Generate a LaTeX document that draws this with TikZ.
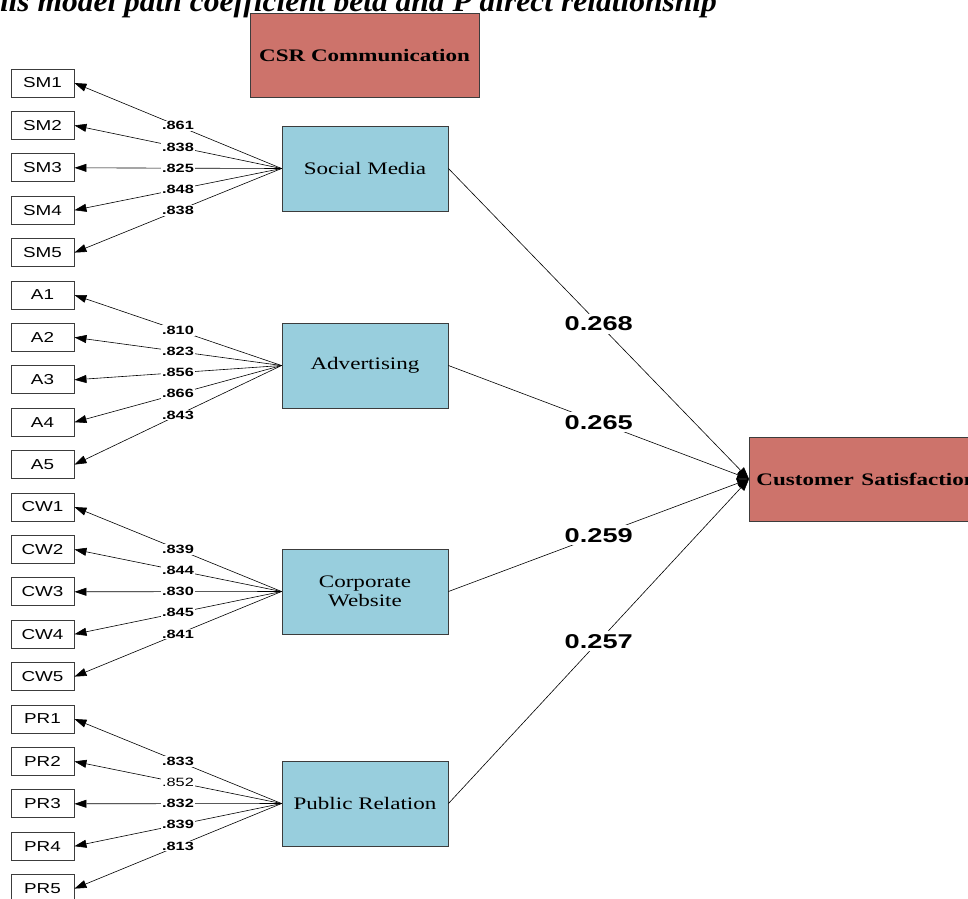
\documentclass[tikz,border=0pt]{standalone}
\usepackage{fontspec}
\usepackage{graphicx}
\setmainfont{Liberation Serif}
\newfontfamily\sansfam{Liberation Sans}
\newfontfamily\seriffam{Liberation Serif}
\usetikzlibrary{arrows.meta}
\definecolor{latblue}{RGB}{152,206,221}
\definecolor{csrred}{RGB}{205,115,107}
\definecolor{edgegray}{RGB}{60,60,60}
\newcommand\sx[1]{\scalebox{1.31}[1]{#1}}
\newcommand\sy[1]{\scalebox{1.36}[1]{#1}}
\tikzset{
  itembox/.style={draw=edgegray, line width=0.9pt, fill=white, minimum width=63pt, minimum height=28pt, inner sep=0pt, font=\sansfam\fontsize{14.4}{16}\selectfont},
  latbox/.style={draw=edgegray, line width=0.9pt, fill=latblue, minimum width=166pt, minimum height=85pt, inner sep=0pt, align=center, font=\seriffam\fontsize{17.6}{19.5}\selectfont},
  redbox/.style={draw=edgegray, line width=0.9pt, fill=csrred, minimum height=84pt, inner sep=0pt, font=\seriffam\bfseries\fontsize{17.6}{19.5}\selectfont},
  load/.style={draw=black, line width=0.6pt, -{Triangle[length=12pt,width=8pt]}},
  path/.style={draw=black, line width=0.6pt, -{Triangle[length=12pt,width=9pt]}},
  lbl/.style={fill=white, inner sep=1pt, font=\sansfam\bfseries\fontsize{12}{13}\selectfont},
  lblr/.style={fill=white, inner sep=1pt, font=\sansfam\fontsize{12}{13}\selectfont},
  coef/.style={fill=white, inner xsep=2pt, inner ysep=3pt, font=\sansfam\bfseries\fontsize{20}{22}\selectfont},
}
\begin{document}
\begin{tikzpicture}[x=1pt, y=-1pt]
\useasboundingbox (0,0) rectangle (968,898);
\clip (0,0) rectangle (968,898);
% title (partly cut off)
\node[anchor=base east, inner sep=0pt, font=\seriffam\bfseries\itshape\fontsize{30}{32}\selectfont] (title) at (717,11) {\scalebox{1.05}[1]{This model path coefficient beta and P direct relationship}};
% red boxes
\node[redbox, minimum width=229pt] (csr) at (364.5,55) {\sx{CSR Communication}};
\node[redbox, anchor=west, minimum width=245pt, text width=238pt, inner xsep=7pt, align=left] (cs) at (749,479) {\sx{Customer Satisfaction}};
% latent boxes
\node[latbox] (sm) at (365,168.5) {\sx{Social Media}};
\node[latbox] (ad) at (365,365.5) {\sx{Advertising}};
\node[latbox] (cw) at (365,591.5) {\sx{Corporate}\\\sx{Website}};
\node[latbox] (pr) at (365,803.5) {\sx{Public Relation}};
% items
\foreach \n [count=\k from 0] in {SM1,SM2,SM3,SM4,SM5,A1,A2,A3,A4,A5,CW1,CW2,CW3,CW4,CW5,PR1,PR2,PR3,PR4,PR5}{
  \node[itembox] (\n) at (42.5,{83+42.4*\k}) {\sx{\n}};
}
% loadings
\draw[load] (sm.west) -- node[lbl]{\sy{.861}} (SM1.east);
\draw[load] (sm.west) -- node[lbl]{\sy{.838}} (SM2.east);
\draw[load] (sm.west) -- node[lbl]{\sy{.825}} (SM3.east);
\draw[load] (sm.west) -- node[lbl]{\sy{.848}} (SM4.east);
\draw[load] (sm.west) -- node[lbl]{\sy{.838}} (SM5.east);
\draw[load] (ad.west) -- node[lbl]{\sy{.810}} (A1.east);
\draw[load] (ad.west) -- node[lbl]{\sy{.823}} (A2.east);
\draw[load] (ad.west) -- node[lbl]{\sy{.856}} (A3.east);
\draw[load] (ad.west) -- node[lbl]{\sy{.866}} (A4.east);
\draw[load] (ad.west) -- node[lbl]{\sy{.843}} (A5.east);
\draw[load] (cw.west) -- node[lbl]{\sy{.839}} (CW1.east);
\draw[load] (cw.west) -- node[lbl]{\sy{.844}} (CW2.east);
\draw[load] (cw.west) -- node[lbl]{\sy{.830}} (CW3.east);
\draw[load] (cw.west) -- node[lbl]{\sy{.845}} (CW4.east);
\draw[load] (cw.west) -- node[lbl]{\sy{.841}} (CW5.east);
\draw[load] (pr.west) -- node[lbl]{\sy{.833}} (PR1.east);
\draw[load] (pr.west) -- node[lblr]{\sy{.852}} (PR2.east);
\draw[load] (pr.west) -- node[lbl]{\sy{.832}} (PR3.east);
\draw[load] (pr.west) -- node[lbl]{\sy{.839}} (PR4.east);
\draw[load] (pr.west) -- node[lbl]{\sy{.813}} (PR5.east);
% structural paths
\draw[path] (sm.east) -- node[coef]{\sy{0.268}} (cs.west);
\draw[path] (ad.east) -- node[coef]{\sy{0.265}} (cs.west);
\draw[path] (cw.east) -- node[coef]{\sy{0.259}} (cs.west);
\draw[path] (pr.east) -- node[coef]{\sy{0.257}} (cs.west);
\end{tikzpicture}
\end{document}
